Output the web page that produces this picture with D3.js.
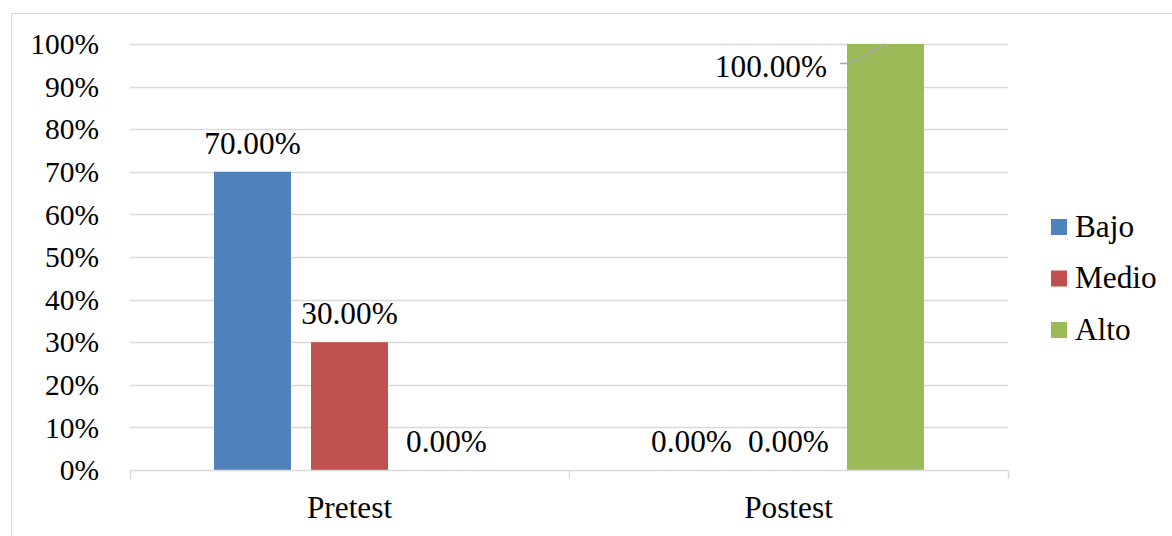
<!DOCTYPE html>
<html>
<head>
<meta charset="utf-8">
<script src="https://cdn.jsdelivr.net/npm/d3@7"></script>
<style>
  html, body { margin: 0; padding: 0; background: #fff; }
  svg { display: block; font-family: "Liberation Serif", "Times New Roman", serif; }
</style>
</head>
<body>
<svg id="chart" width="1172" height="536"></svg>
<script>
// Test phases and performance levels
const categories = ["Pretest", "Postest"];
const seriesNames = ["Bajo", "Medio", "Alto"];
const seriesColors = ["#4f81bd", "#c0504d", "#9bbb59"];
const bajo = [0.70, 0.00];
const medio = [0.30, 0.00];
const alto = [0.00, 1.00];
const yTicks = [0, 0.1, 0.2, 0.3, 0.4, 0.5, 0.6, 0.7, 0.8, 0.9, 1.0];

const seriesValues = [bajo, medio, alto];

const svg = d3.select("#chart");
const W = 1172, H = 536;
const FS_TICK = 29.5;
const FS = 31.3;

// Outer chart frame
svg.append("rect")
  .attr("x", 11.5).attr("y", 13.5)
  .attr("width", W + 10).attr("height", H + 10)
  .attr("fill", "#fff").attr("stroke", "#d9d9d9").attr("stroke-width", 1);

const plot = { left: 130, right: 1008, top: 44, bottom: 470 };

const x0 = d3.scaleBand().domain(categories).range([plot.left, plot.right]).paddingInner(0).paddingOuter(0);
const y = d3.scaleLinear().domain([0, 1]).range([plot.bottom, plot.top]);

const barW = 77, gap = 20;
const groupW = barW * seriesNames.length + gap * (seriesNames.length - 1);
const x1 = d3.scaleBand().domain(seriesNames)
  .range([(x0.bandwidth() - groupW) / 2, (x0.bandwidth() + groupW) / 2])
  .paddingInner(gap / (barW + gap)).paddingOuter(0);

// Gridlines
svg.append("g")
  .selectAll("line")
  .data(yTicks.filter(t => t > 0))
  .join("line")
  .attr("x1", plot.left).attr("x2", plot.right)
  .attr("y1", d => Math.round(y(d)) + 0.5).attr("y2", d => Math.round(y(d)) + 0.5)
  .attr("stroke", "#d9d9d9").attr("stroke-width", 1.5);

// Y axis labels
const yAxis = d3.axisLeft(y).tickValues(yTicks).tickFormat(d3.format(".0%")).tickSize(0).tickPadding(0);
const yg = svg.append("g").attr("transform", `translate(${plot.left - 31},0)`).call(yAxis);
yg.select(".domain").remove();
yg.attr("font-family", null).attr("font-size", null);
yg.selectAll("text")
  .attr("font-size", FS_TICK).attr("fill", "#000")
  .attr("dy", "0.33em");

// Bars
const groups = svg.append("g")
  .selectAll("g")
  .data(categories)
  .join("g")
  .attr("transform", d => `translate(${x0(d)},0)`);

groups.selectAll("rect")
  .data((c, ci) => seriesNames.map((s, si) => ({ s, si, v: seriesValues[si][ci], ci })))
  .join("rect")
  .attr("x", d => x1(d.s))
  .attr("width", x1.bandwidth())
  .attr("y", d => y(d.v))
  .attr("height", d => y(0) - y(d.v))
  .attr("fill", d => seriesColors[d.si]);

// X axis line with category dividers
const xg = svg.append("g");
xg.append("line")
  .attr("x1", plot.left).attr("x2", plot.right)
  .attr("y1", plot.bottom + 0.5).attr("y2", plot.bottom + 0.5)
  .attr("stroke", "#d9d9d9").attr("stroke-width", 1.5);
const dividers = [plot.left].concat(categories.map(c => x0(c) + x0.bandwidth()));
xg.selectAll("line.div")
  .data(dividers)
  .join("line")
  .attr("class", "div")
  .attr("x1", d => d + 0.5).attr("x2", d => d + 0.5)
  .attr("y1", plot.bottom).attr("y2", plot.bottom + 9)
  .attr("stroke", "#d9d9d9").attr("stroke-width", 1.5);
xg.selectAll("text")
  .data(categories)
  .join("text")
  .attr("x", d => x0(d) + x0.bandwidth() / 2)
  .attr("y", 518)
  .attr("text-anchor", "middle")
  .attr("font-size", FS)
  .attr("fill", "#000")
  .text(d => d);

// Value labels
const fmt = d3.format(".2%");
const labels = svg.append("g");
categories.forEach((c, ci) => {
  seriesNames.forEach((s, si) => {
    const v = seriesValues[si][ci];
    const cx = x0(c) + x1(s) + x1.bandwidth() / 2;
    if (v >= 1) {
      // Full-height bar: label sits beside the bar with a leader line
      const tx = x0(c) + x1(s) - 20;
      const ty = y(v) + 33;
      labels.append("text")
        .attr("x", tx).attr("y", ty)
        .attr("text-anchor", "end").attr("font-size", FS).attr("fill", "#000")
        .text(fmt(v));
      labels.append("polyline")
        .attr("points", [[tx + 13, ty - 13.5], [tx + 23, ty - 13.5], [cx, y(v)]].map(p => p.join(",")).join(" "))
        .attr("fill", "none").attr("stroke", "#a6a6a6").attr("stroke-width", 1.5);
    } else {
      labels.append("text")
        .attr("x", cx).attr("y", y(v) - 18)
        .attr("text-anchor", "middle").attr("font-size", FS).attr("fill", "#000")
        .text(fmt(v));
    }
  });
});

// Legend
const legend = svg.append("g");
seriesNames.forEach((s, i) => {
  const ly = 227 + i * 51.5;
  legend.append("rect")
    .attr("x", 1051).attr("y", ly - 8).attr("width", 16).attr("height", 16)
    .attr("fill", seriesColors[i]);
  legend.append("text")
    .attr("x", 1075).attr("y", ly + 9.5)
    .attr("font-size", FS).attr("fill", "#000")
    .text(s);
});
</script>
</body>
</html>
